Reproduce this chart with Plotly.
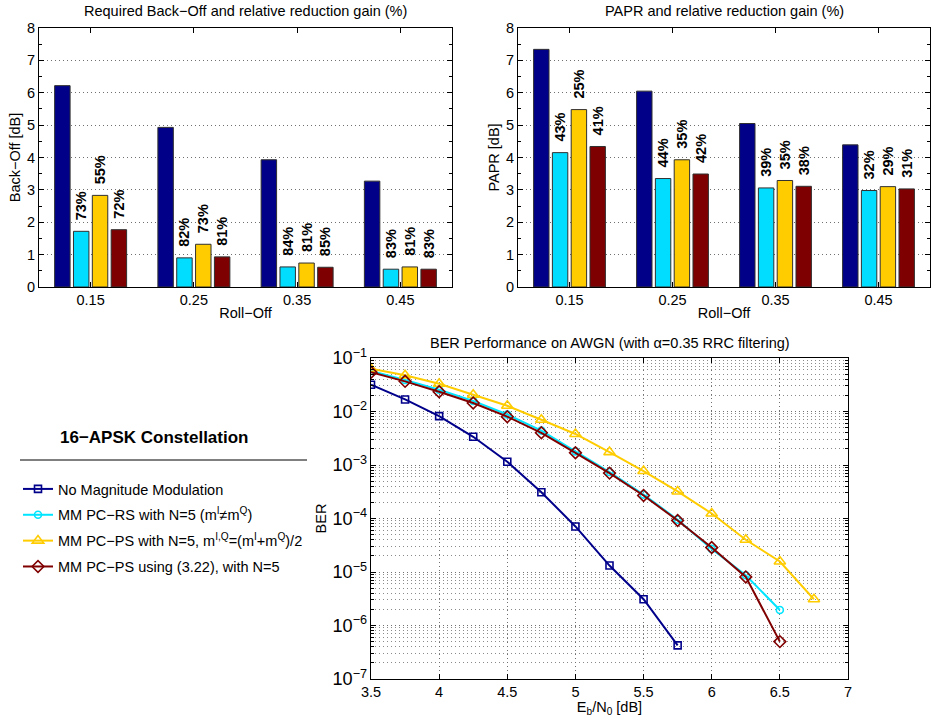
import plotly.graph_objects as go

# ---------------- data ----------------
roll_off = ['0.15', '0.25', '0.35', '0.45']

bo_none = [6.22, 4.93, 3.93, 3.27]
bo_rs = [1.72, 0.90, 0.62, 0.55]
bo_ps = [2.83, 1.32, 0.74, 0.62]
bo_ps322 = [1.77, 0.93, 0.61, 0.55]
bo_gain_rs = ['73%', '82%', '84%', '83%']
bo_gain_ps = ['55%', '73%', '81%', '81%']
bo_gain_ps322 = ['72%', '81%', '85%', '83%']

papr_none = [7.34, 6.05, 5.05, 4.39]
papr_rs = [4.15, 3.35, 3.06, 2.98]
papr_ps = [5.48, 3.93, 3.29, 3.10]
papr_ps322 = [4.34, 3.49, 3.11, 3.03]
papr_gain_rs = ['43%', '44%', '39%', '32%']
papr_gain_ps = ['25%', '35%', '35%', '29%']
papr_gain_ps322 = ['41%', '42%', '38%', '31%']

ebn0 = [3.5, 3.75, 4.0, 4.25, 4.5, 4.75, 5.0, 5.25, 5.5, 5.75, 6.0, 6.25, 6.5, 6.75]
ber_none = [3.17e-2, 1.68e-2, 8.2e-3, 3.37e-3, 1.15e-3, 3.1e-4, 7.1e-5, 1.32e-5, 3.1e-6, 4.25e-7]
ber_rs = [5.7e-2, 3.9e-2, 2.55e-2, 1.58e-2, 8.8e-3, 4.4e-3, 1.8e-3, 7.4e-4, 2.8e-4, 9.5e-5, 2.7e-5, 8.7e-6, 1.95e-6]
ber_ps = [6.3e-2, 4.74e-2, 3.3e-2, 2.06e-2, 1.28e-2, 7.0e-3, 3.8e-3, 1.74e-3, 7.7e-4, 3.2e-4, 1.24e-4, 4.0e-5, 1.57e-5, 3.1e-6]
ber_ps322 = [5.4e-2, 3.66e-2, 2.34e-2, 1.44e-2, 8.0e-3, 4.0e-3, 1.69e-3, 7.05e-4, 2.69e-4, 9.2e-5, 2.86e-5, 8.1e-6, 5.0e-7]

series_names = [
    'No Magnitude Modulation',
    'MM PC\u2212RS with N=5 (m<sup>I</sup>\u2260m<sup>Q</sup>)',
    'MM PC\u2212PS with N=5, m<sup>I,Q</sup>=(m<sup>I</sup>+m<sup>Q</sup>)/2',
    'MM PC\u2212PS using (3.22), with N=5',
]
bar_colors = ['#000088', '#00DDFF', '#FFCC00', '#7F0000']
line_colors = ['#00008B', '#00E5FF', '#FFCC00', '#800000']
markers = ['square-open', 'circle-open', 'triangle-up-open', 'diamond-open']
marker_sizes = [7, 7, 10, 9]

# ---------------- figure ----------------
W, H = 933, 717
FONT = 'Liberation Sans, Arial, Helvetica, sans-serif'
FS = 14.5
BARGAP = 0.27
BARGROUPGAP = 0.18

fig = go.Figure()

bo_series = [bo_none, bo_rs, bo_ps, bo_ps322]
papr_series = [papr_none, papr_rs, papr_ps, papr_ps322]
bo_labels = [None, bo_gain_rs, bo_gain_ps, bo_gain_ps322]
papr_labels = [None, papr_gain_rs, papr_gain_ps, papr_gain_ps322]

for (xa, ya, vals_list, labels_list) in [('x', 'y', bo_series, bo_labels),
                                         ('x2', 'y2', papr_series, papr_labels)]:
    for i, vals in enumerate(vals_list):
        labels = labels_list[i]
        fig.add_trace(go.Bar(
            x=roll_off, y=vals, name=series_names[i], showlegend=False,
            marker=dict(color=bar_colors[i], line=dict(color='#303030', width=1)),
            text=labels,
            texttemplate='\u00a0\u00a0<b>%{text}</b>' if labels else None,
            textposition='outside' if labels else 'none',
            textangle=-90, constraintext='none', cliponaxis=False,
            textfont=dict(size=FS, color='black', family=FONT),
            xaxis=xa, yaxis=ya))

ber_series = [ber_none, ber_rs, ber_ps, ber_ps322]
for i, vals in enumerate(ber_series):
    fig.add_trace(go.Scatter(x=ebn0[:len(vals)], y=vals, name=series_names[i],
                             mode='lines+markers', legendgroup='g%d' % i,
                             line=dict(color=line_colors[i], width=2),
                             marker=dict(symbol=markers[i], size=marker_sizes[i],
                                         color=line_colors[i], line=dict(width=1.6, color=line_colors[i])),
                             xaxis='x3', yaxis='y3'))

# subplot titles
annotations = [
    dict(text='Required Back\u2212Off and relative reduction gain (%)', x=245.5 / W, y=1 - 11 / H,
         xref='paper', yref='paper', showarrow=False, xanchor='center', yanchor='middle',
         font=dict(size=FS, color='black', family=FONT)),
    dict(text='PAPR and relative reduction gain (%)', x=724 / W, y=1 - 11 / H,
         xref='paper', yref='paper', showarrow=False, xanchor='center', yanchor='middle',
         font=dict(size=FS, color='black', family=FONT)),
    dict(text='BER Performance on AWGN (with \u03b1=0.35 RRC filtering)', x=609.5 / W, y=1 - 343 / H,
         xref='paper', yref='paper', showarrow=False, xanchor='center', yanchor='middle',
         font=dict(size=FS, color='black', family=FONT)),
    dict(text='<b>16\u2212APSK Constellation</b>', x=154 / W, y=1 - 437 / H,
         xref='paper', yref='paper', showarrow=False, xanchor='center', yanchor='middle',
         font=dict(size=17, color='black', family=FONT)),
]

shapes = [dict(type='line', xref='paper', yref='paper', x0=20 / W, x1=307 / W,
               y0=1 - 460 / H, y1=1 - 460 / H, line=dict(color='black', width=1))]

grid = dict(showgrid=True, gridcolor='#707070', griddash='1px,3px', gridwidth=1)
axis_common = dict(showline=True, linecolor='black', linewidth=1, mirror='ticks',
                   ticks='inside', ticklen=5, tickcolor='black', zeroline=False,
                   automargin=False,
                   tickfont=dict(size=FS, color='black', family=FONT),
                   title_font=dict(size=FS, color='black', family=FONT))

fig.update_layout(
    width=W, height=H,
    margin=dict(l=0, r=0, t=0, b=0, autoexpand=False),
    paper_bgcolor='white', plot_bgcolor='white',
    font=dict(family=FONT, size=FS, color='black'),
    barmode='group', bargap=BARGAP, bargroupgap=BARGROUPGAP,
    uniformtext=dict(mode=False),
    xaxis=dict(domain=[39 / W, 452 / W], anchor='y', type='category',
               showgrid=False, title=dict(text='Roll\u2212Off', standoff=0), **axis_common),
    yaxis=dict(domain=[1 - 287 / H, 1 - 28 / H], anchor='x', range=[0, 8], dtick=1,
               minor=dict(dtick=0.5, ticks='inside', ticklen=3, tickcolor='black', showgrid=False),
               title=dict(text='Back\u2212Off [dB]', standoff=2), **grid, **axis_common),
    xaxis2=dict(domain=[518 / W, 930 / W], anchor='y2', type='category',
                showgrid=False, title=dict(text='Roll\u2212Off', standoff=0), **axis_common),
    yaxis2=dict(domain=[1 - 287 / H, 1 - 28 / H], anchor='x2', range=[0, 8], dtick=1,
                minor=dict(dtick=0.5, ticks='inside', ticklen=3, tickcolor='black', showgrid=False),
                title=dict(text='PAPR [dB]', standoff=2), **grid, **axis_common),
    xaxis3=dict(domain=[371 / W, 848 / W], anchor='y3', range=[3.5, 7], dtick=0.5,
                title=dict(text='E<sub>b</sub>/N<sub>0</sub> [dB]', standoff=0), **grid, **axis_common),
    yaxis3=dict(domain=[1 - 679 / H, 1 - 358 / H], anchor='x3', type='log', range=[-7, -1], dtick=1,
                exponentformat='power', showexponent='all',
                minor=dict(dtick='D1', ticks='inside', ticklen=3, tickcolor='black',
                           showgrid=True, gridcolor='#8a8a8a', griddash='1px,3px', gridwidth=1),
                title=dict(text='BER', standoff=2), **grid, **axis_common),
    legend=dict(x=18 / W, y=1 - 473 / H, xanchor='left', yanchor='top',
                font=dict(size=FS, color='black', family=FONT), bgcolor='rgba(0,0,0,0)',
                tracegroupgap=4),
    annotations=annotations,
    shapes=shapes,
)

fig.write_html('out.html', config={'displayModeBar': False},
               post_script="document.body.style.margin='0px';document.body.style.overflow='hidden';")
